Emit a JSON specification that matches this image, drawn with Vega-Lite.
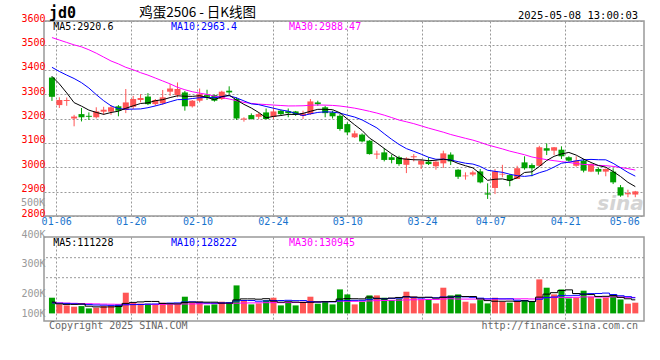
{
"$schema":"https://vega.github.io/schema/vega-lite/v6.json",
"padding":{"left":20,"top":5,"right":4,"bottom":4},
"background":"#ffffff",
"spacing":21,
"bounds":"flush",
"config":{
 "view":{"stroke":"#999999","strokeWidth":1.5},
 "axis":{"labelFont":"DejaVu Sans Mono","labelFontSize":10,"domain":false,"ticks":false,"tickSize":0,"gridColor":"#999999","gridDash":[2,2],"gridWidth":1,"labelOverlap":false,"tickCount":40},
 "text":{"font":"DejaVu Sans Mono","fontSize":10}
},
"datasets":{"k":[
{"i":0,"d":"01-03","o":3368,"h":3372,"l":3272,"c":3289,"v":128700,"m5":3373,"m10":3410,"m30":3532,"v5":92660,"v10":86100,"v30":87740},
{"i":1,"d":"01-06","o":3255,"h":3287,"l":3243,"c":3276,"v":73800,"m5":3342,"m10":3393,"m30":3522,"v5":77900,"v10":83640,"v30":86100},
{"i":2,"d":"01-07","o":3272,"h":3286,"l":3252,"c":3276,"v":65600,"m5":3305,"m10":3378,"m30":3512,"v5":73800,"v10":82000,"v30":84460},
{"i":3,"d":"01-08","o":3200,"h":3215,"l":3168,"c":3208,"v":54900,"m5":3265,"m10":3364,"m30":3502,"v5":73800,"v10":78720,"v30":82820},
{"i":4,"d":"01-09","o":3218,"h":3243,"l":3188,"c":3205,"v":59900,"m5":3250.8,"m10":3347,"m30":3494,"v5":76590,"v10":75440,"v30":81180},
{"i":5,"d":"01-10","o":3211,"h":3225,"l":3194,"c":3207,"v":41000,"m5":3234.4,"m10":3325,"m30":3482,"v5":59040,"v10":72160,"v30":79540},
{"i":6,"d":"01-13","o":3205,"h":3246,"l":3200,"c":3229,"v":46700,"m5":3225,"m10":3298,"m30":3468,"v5":53630,"v10":68880,"v30":77900},
{"i":7,"d":"01-14","o":3228,"h":3248,"l":3215,"c":3236,"v":59900,"m5":3217,"m10":3273,"m30":3452,"v5":52480,"v10":67240,"v30":76260},
{"i":8,"d":"01-15","o":3228,"h":3255,"l":3215,"c":3246,"v":59900,"m5":3224.6,"m10":3252,"m30":3436,"v5":53460,"v10":65600,"v30":75440},
{"i":9,"d":"01-16","o":3250,"h":3255,"l":3209,"c":3232,"v":73800,"m5":3230,"m10":3240.4,"m30":3424,"v5":56250,"v10":66420,"v30":74620},
{"i":10,"d":"01-17","o":3235,"h":3321,"l":3222,"c":3266,"v":169700,"m5":3241.8,"m10":3238.1,"m30":3410,"v5":82000,"v10":70520,"v30":74620},
{"i":11,"d":"01-20","o":3248,"h":3293,"l":3239,"c":3280,"v":87700,"m5":3252,"m10":3238.5,"m30":3400,"v5":90200,"v10":71910,"v30":74620},
{"i":12,"d":"01-21","o":3276,"h":3300,"l":3266,"c":3284,"v":79500,"m5":3261.6,"m10":3239.3,"m30":3388,"v5":94140,"v10":73310,"v30":73800},
{"i":13,"d":"01-22","o":3290,"h":3304,"l":3255,"c":3259,"v":79500,"m5":3264.2,"m10":3244.4,"m30":3378,"v5":98070,"v10":75770,"v30":73800},
{"i":14,"d":"01-23","o":3259,"h":3280,"l":3252,"c":3276,"v":73800,"m5":3273,"m10":3251.5,"m30":3366,"v5":98070,"v10":77160,"v30":73800},
{"i":15,"d":"01-24","o":3262,"h":3317,"l":3256,"c":3287,"v":87700,"m5":3277.2,"m10":3259.5,"m30":3354,"v5":81670,"v10":81840,"v30":74620},
{"i":16,"d":"01-27","o":3310,"h":3341,"l":3293,"c":3323,"v":73800,"m5":3285.8,"m10":3268.9,"m30":3342,"v5":78880,"v10":84540,"v30":75440},
{"i":17,"d":"02-05","o":3296,"h":3348,"l":3287,"c":3321,"v":73800,"m5":3293.2,"m10":3277.4,"m30":3328,"v5":77740,"v10":85940,"v30":76260},
{"i":18,"d":"02-06","o":3307,"h":3313,"l":3232,"c":3250,"v":136900,"m5":3291.4,"m10":3277.8,"m30":3318,"v5":89220,"v10":93640,"v30":77080},
{"i":19,"d":"02-07","o":3250,"h":3276,"l":3245,"c":3273,"v":87700,"m5":3290.8,"m10":3281.9,"m30":3310,"v5":92000,"v10":95040,"v30":77900},
{"i":20,"d":"02-10","o":3273,"h":3323,"l":3266,"c":3300,"v":95900,"m5":3293.4,"m10":3285.3,"m30":3304,"v5":93640,"v10":87660,"v30":78720},
{"i":21,"d":"02-11","o":3296,"h":3318,"l":3276,"c":3289,"v":65600,"m5":3286.6,"m10":3286.2,"m30":3299,"v5":92000,"v10":85440,"v30":79540},
{"i":22,"d":"02-12","o":3296,"h":3298,"l":3269,"c":3273,"v":73800,"m5":3277,"m10":3285.1,"m30":3292,"v5":92000,"v10":84870,"v30":80360},
{"i":23,"d":"02-13","o":3280,"h":3314,"l":3276,"c":3310,"v":95900,"m5":3289,"m10":3290.2,"m30":3286,"v5":83800,"v10":86510,"v30":81180},
{"i":24,"d":"02-14","o":3314,"h":3332,"l":3300,"c":3307,"v":87700,"m5":3295.8,"m10":3293.3,"m30":3280,"v5":83800,"v10":87900,"v30":82000},
{"i":25,"d":"02-17","o":3280,"h":3287,"l":3194,"c":3200,"v":229600,"m5":3275.8,"m10":3284.6,"m30":3273,"v5":110540,"v10":102090,"v30":83640},
{"i":26,"d":"02-18","o":3196,"h":3205,"l":3187,"c":3200,"v":109100,"m5":3258,"m10":3272.3,"m30":3266,"v5":119230,"v10":105620,"v30":85280},
{"i":27,"d":"02-19","o":3214,"h":3221,"l":3196,"c":3198,"v":73800,"m5":3243,"m10":3260,"m30":3262,"v5":119230,"v10":105620,"v30":86100},
{"i":28,"d":"02-20","o":3207,"h":3225,"l":3198,"c":3218,"v":82000,"m5":3224.6,"m10":3256.8,"m30":3259,"v5":116440,"v10":100120,"v30":86920},
{"i":29,"d":"02-21","o":3225,"h":3241,"l":3196,"c":3198,"v":109100,"m5":3202.8,"m10":3249.3,"m30":3257.2,"v5":120700,"v10":102250,"v30":87900},
{"i":30,"d":"02-24","o":3207,"h":3246,"l":3198,"c":3229,"v":128700,"m5":3208.6,"m10":3242.2,"m30":3255.2,"v5":100530,"v10":105530,"v30":87900},
{"i":31,"d":"02-25","o":3232,"h":3236,"l":3214,"c":3218,"v":65600,"m5":3212.2,"m10":3235.1,"m30":3253.3,"v5":91840,"v10":105530,"v30":87660},
{"i":32,"d":"02-26","o":3230,"h":3241,"l":3205,"c":3222,"v":92700,"m5":3217,"m10":3230,"m30":3251.5,"v5":95610,"v10":107420,"v30":88560},
{"i":33,"d":"02-27","o":3229,"h":3231,"l":3211,"c":3216,"v":65600,"m5":3216.6,"m10":3220.6,"m30":3251.7,"v5":92330,"v10":104390,"v30":88890},
{"i":34,"d":"02-28","o":3211,"h":3232,"l":3198,"c":3221,"v":95900,"m5":3221.2,"m10":3212,"m30":3252.3,"v5":89710,"v10":105210,"v30":90120},
{"i":35,"d":"03-03","o":3218,"h":3280,"l":3215,"c":3270,"v":136900,"m5":3229.4,"m10":3219,"m30":3254.4,"v5":91350,"v10":95940,"v30":93320},
{"i":36,"d":"03-04","o":3266,"h":3273,"l":3252,"c":3259,"v":79500,"m5":3237.6,"m10":3224.9,"m30":3255.4,"v5":94140,"v10":92990,"v30":94380},
{"i":37,"d":"03-05","o":3246,"h":3252,"l":3205,"c":3222,"v":100900,"m5":3237.6,"m10":3227.3,"m30":3254.9,"v5":95780,"v10":95690,"v30":95780},
{"i":38,"d":"03-06","o":3225,"h":3232,"l":3200,"c":3209,"v":73800,"m5":3236.2,"m10":3226.4,"m30":3253.7,"v5":97420,"v10":94870,"v30":96190},
{"i":39,"d":"03-07","o":3211,"h":3218,"l":3150,"c":3157,"v":196800,"m5":3223.4,"m10":3222.3,"m30":3251.2,"v5":117590,"v10":103650,"v30":100290},
{"i":40,"d":"03-10","o":3177,"h":3184,"l":3132,"c":3143,"v":155800,"m5":3198,"m10":3213.7,"m30":3247.1,"v5":121360,"v10":106350,"v30":99880},
{"i":41,"d":"03-11","o":3123,"h":3150,"l":3120,"c":3139,"v":73800,"m5":3174,"m10":3205.8,"m30":3242.4,"v5":120210,"v10":107170,"v30":99380},
{"i":42,"d":"03-12","o":3134,"h":3139,"l":3102,"c":3106,"v":95900,"m5":3150.8,"m10":3194.2,"m30":3236.4,"v5":119230,"v10":107500,"v30":99960},
{"i":43,"d":"03-13","o":3109,"h":3111,"l":3052,"c":3054,"v":147600,"m5":3119.8,"m10":3178,"m30":3229.6,"v5":133990,"v10":115700,"v30":102170},
{"i":44,"d":"03-14","o":3052,"h":3068,"l":3034,"c":3056,"v":147600,"m5":3099.6,"m10":3161.5,"m30":3222.3,"v5":124150,"v10":120870,"v30":104630},
{"i":45,"d":"03-17","o":3061,"h":3079,"l":3024,"c":3030,"v":128700,"m5":3077,"m10":3137.5,"m30":3213.7,"v5":118740,"v10":120050,"v30":106030},
{"i":46,"d":"03-18","o":3041,"h":3052,"l":3016,"c":3030,"v":109100,"m5":3055.2,"m10":3114.6,"m30":3203.9,"v5":125790,"v10":123000,"v30":107170},
{"i":47,"d":"03-19","o":3041,"h":3047,"l":3006,"c":3013,"v":120500,"m5":3036.6,"m10":3093.7,"m30":3193.7,"v5":130710,"v10":124970,"v30":108730},
{"i":48,"d":"03-20","o":3010,"h":3041,"l":2976,"c":3036,"v":177900,"m5":3033,"m10":3076.4,"m30":3186.5,"v5":136780,"v10":135380,"v30":110130},
{"i":49,"d":"03-21","o":3041,"h":3054,"l":3024,"c":3045,"v":136900,"m5":3030.8,"m10":3065.2,"m30":3178.9,"v5":134640,"v10":129400,"v30":111770},
{"i":50,"d":"03-24","o":3011,"h":3032,"l":2993,"c":3027,"v":114800,"m5":3030.2,"m10":3053.6,"m30":3169.8,"v5":131860,"v10":125300,"v30":112420},
{"i":51,"d":"03-25","o":3023,"h":3041,"l":3009,"c":3013,"v":114800,"m5":3026.8,"m10":3041,"m30":3160.6,"v5":133000,"v10":129400,"v30":114060},
{"i":52,"d":"03-26","o":3004,"h":3025,"l":2990,"c":3023,"v":82000,"m5":3028.8,"m10":3032.7,"m30":3152.3,"v5":125300,"v10":128000,"v30":114310},
{"i":53,"d":"03-27","o":3016,"h":3068,"l":2997,"c":3057,"v":210700,"m5":3033,"m10":3033,"m30":3143.9,"v5":131860,"v10":134320,"v30":118160},
{"i":54,"d":"03-28","o":3052,"h":3061,"l":3009,"c":3024,"v":147600,"m5":3028.8,"m10":3029.8,"m30":3134.4,"v5":133990,"v10":134320,"v30":120130},
{"i":55,"d":"03-31","o":2990,"h":2992,"l":2952,"c":2961,"v":155800,"m5":3015.6,"m10":3022.9,"m30":3126.5,"v5":142190,"v10":137020,"v30":117670},
{"i":56,"d":"04-01","o":2963,"h":2979,"l":2949,"c":2966,"v":95900,"m5":3006.2,"m10":3016.5,"m30":3118.7,"v5":138420,"v10":135710,"v30":117260},
{"i":57,"d":"04-02","o":2970,"h":2986,"l":2963,"c":2979,"v":82000,"m5":2997.4,"m10":3013.1,"m30":3111.4,"v5":138420,"v10":131860,"v30":117510},
{"i":58,"d":"04-03","o":2983,"h":2993,"l":2934,"c":2938,"v":109100,"m5":2973.6,"m10":3003.3,"m30":3102,"v5":118080,"v10":124970,"v30":118410},
{"i":59,"d":"04-07","o":2893,"h":2934,"l":2870,"c":2888,"v":82000,"m5":2946.4,"m10":2987.6,"m30":3091.7,"v5":104960,"v10":119470,"v30":117510},
{"i":60,"d":"04-08","o":2915,"h":2993,"l":2890,"c":2983,"v":128700,"m5":2950.8,"m10":2983.2,"m30":3083.5,"v5":99550,"v10":120870,"v30":117510},
{"i":61,"d":"04-09","o":2970,"h":3010,"l":2959,"c":2973,"v":95900,"m5":2952.2,"m10":2979.2,"m30":3075.3,"v5":99550,"v10":118980,"v30":118490},
{"i":62,"d":"04-10","o":2968,"h":2972,"l":2922,"c":2945,"v":87700,"m5":2945.4,"m10":2971.4,"m30":3066.1,"v5":100700,"v10":119560,"v30":118330},
{"i":63,"d":"04-11","o":2952,"h":3006,"l":2952,"c":2996,"v":95900,"m5":2957,"m10":2965.3,"m30":3058.8,"v5":98070,"v10":108080,"v30":119390},
{"i":64,"d":"04-14","o":3020,"h":3045,"l":2990,"c":2996,"v":109100,"m5":2978.6,"m10":2962.5,"m30":3051.3,"v5":103480,"v10":104220,"v30":119800},
{"i":65,"d":"04-15","o":3009,"h":3016,"l":2963,"c":2996,"v":95900,"m5":2981.2,"m10":2966,"m30":3042.1,"v5":96920,"v10":98240,"v30":118410},
{"i":66,"d":"04-16","o":3006,"h":3088,"l":3004,"c":3082,"v":278800,"m5":3003,"m10":2977.6,"m30":3036.2,"v5":133500,"v10":116520,"v30":125050},
{"i":67,"d":"04-17","o":3078,"h":3098,"l":3050,"c":3068,"v":210700,"m5":3027.6,"m10":2986.5,"m30":3031.1,"v5":158100,"v10":129400,"v30":128740},
{"i":68,"d":"04-18","o":3068,"h":3083,"l":3050,"c":3082,"v":155800,"m5":3044.8,"m10":3000.9,"m30":3026.9,"v5":170070,"v10":134070,"v30":131450},
{"i":69,"d":"04-21","o":3072,"h":3086,"l":3034,"c":3045,"v":196800,"m5":3054.6,"m10":3016.6,"m30":3023.1,"v5":187620,"v10":145550,"v30":131450},
{"i":70,"d":"04-22","o":3041,"h":3045,"l":3023,"c":3027,"v":123000,"m5":3060.8,"m10":3021,"m30":3019.3,"v5":193030,"v10":144980,"v30":130380},
{"i":71,"d":"04-23","o":3006,"h":3045,"l":3002,"c":3027,"v":128700,"m5":3049.8,"m10":3026.4,"m30":3015.5,"v5":163020,"v10":148260,"v30":132180},
{"i":72,"d":"04-24","o":3027,"h":3034,"l":2979,"c":2986,"v":186100,"m5":3033.4,"m10":3030.5,"m30":3011.5,"v5":158100,"v10":158100,"v30":135220},
{"i":73,"d":"04-25","o":2982,"h":3016,"l":2980,"c":3013,"v":136900,"m5":3019.6,"m10":3032.2,"m30":3010.2,"v5":154320,"v10":162200,"v30":134890},
{"i":74,"d":"04-28","o":2993,"h":2999,"l":2970,"c":2982,"v":120500,"m5":3007,"m10":3030.8,"m30":3007.7,"v5":139070,"v10":163340,"v30":133990},
{"i":75,"d":"04-29","o":2982,"h":2995,"l":2963,"c":2993,"v":128700,"m5":3000.2,"m10":3030.5,"m30":3006.5,"v5":140220,"v10":166620,"v30":133990},
{"i":76,"d":"04-30","o":2982,"h":2996,"l":2931,"c":2938,"v":155800,"m5":2982.4,"m10":3016.1,"m30":3003.4,"v5":145630,"v10":154320,"v30":135550},
{"i":77,"d":"05-06","o":2918,"h":2927,"l":2879,"c":2884,"v":114800,"m5":2962,"m10":2997.7,"m30":2999.1,"v5":131360,"v10":144730,"v30":135300},
{"i":78,"d":"05-07","o":2889,"h":2908,"l":2877,"c":2894,"v":79500,"m5":2938.2,"m10":2978.9,"m30":2994.4,"v5":119880,"v10":137100,"v30":132020},
{"i":79,"d":"05-08","o":2888,"h":2903,"l":2877,"c":2901,"v":87700,"m5":2920.6,"m10":2963.4,"m30":2988.47,"v5":111228,"v10":128222,"v30":130945}
]},
"vconcat":[
{
 "width":600,"height":195,
 "data":{"name":"k"},
 "layer":[
  {"data":{"values":[{}]},"mark":{"type":"text","text":"sina","font":"DejaVu Sans","fontSize":20,"fontWeight":"bold","fontStyle":"italic","color":"#d4d4d4","align":"center","baseline":"middle"},
   "encoding":{"x":{"datum":77.0},"y":{"datum":2850}}},
  {"mark":{"type":"rule","strokeWidth":1},
   "encoding":{
    "x":{"field":"i","type":"quantitative","scale":{"domain":[-0.4,79.5],"nice":false,"zero":false},
     "axis":{"title":null,"values":[0.57,10.69,19.71,29.92,39.99,50.11,59.35,69.51,77.5],"tickCount":40,"grid":true,
      "labelExpr":"datum.value < 5 ? '01-06' : datum.value < 15 ? '01-20' : datum.value < 25 ? '02-10' : datum.value < 35 ? '02-24' : datum.value < 45 ? '03-10' : datum.value < 55 ? '03-24' : datum.value < 65 ? '04-07' : datum.value < 73 ? '04-21' : '05-06'",
      "labelColor":"#1874CD","labelOverlap":false,"labelFlush":false,"labelBaseline":"top","labelPadding":0,
      "gridOpacity":{"condition":{"test":"datum.value > 75","value":0},"value":1}}},
    "y":{"field":"l","type":"quantitative","scale":{"domain":[2800,3600],"nice":false,"zero":false},
     "axis":{"title":null,"values":[2800,2900,3000,3100,3200,3300,3400,3500,3600],"tickCount":40,"grid":true,"format":"d","labelOverlap":false,"labelColor":"#ff0000","labelBaseline":"alphabetic","labelPadding":-1}},
    "y2":{"field":"h"},
    "color":{"condition":{"test":"datum.c >= datum.o","value":"#ff5555"},"value":"#00a000"}
   }},
  {"mark":{"type":"bar","size":6},
   "encoding":{
    "x":{"field":"i","type":"quantitative"},
    "y":{"field":"o","type":"quantitative"},
    "y2":{"field":"c"},
    "color":{"condition":{"test":"datum.c >= datum.o","value":"#ff5555"},"value":"#00a000"}
   }},
  {"mark":{"type":"line","color":"#ff00ff","strokeWidth":1},"encoding":{"x":{"field":"i","type":"quantitative"},"y":{"field":"m30","type":"quantitative"}}},
  {"mark":{"type":"line","color":"#0000ff","strokeWidth":1},"encoding":{"x":{"field":"i","type":"quantitative"},"y":{"field":"m10","type":"quantitative"}}},
  {"mark":{"type":"line","color":"#000000","strokeWidth":1},"encoding":{"x":{"field":"i","type":"quantitative"},"y":{"field":"m5","type":"quantitative"}}},
  {"data":{"values":[{}]},"mark":{"type":"text","text":"jd0","fontSize":15,"fontWeight":"bold","align":"left","baseline":"alphabetic","dy":-3,"color":"#000000"},
   "encoding":{"x":{"datum":-0.4},"y":{"datum":3600}}},
  {"data":{"values":[{}]},"mark":{"type":"text","text":"鸡蛋2506 - 日K线图","font":"Noto Sans CJK SC","fontSize":13.5,"align":"left","baseline":"alphabetic","dy":-4,"color":"#000000"},
   "encoding":{"x":{"datum":11.81},"y":{"datum":3600}}},
  {"data":{"values":[{}]},"mark":{"type":"text","text":"2025-05-08 13:00:03","fontSize":10.5,"align":"right","baseline":"alphabetic","dy":-2,"color":"#000000"},
   "encoding":{"x":{"datum":79.37},"y":{"datum":3600}}},
  {"data":{"values":[{}]},"mark":{"type":"text","text":"MA5:2920.6","align":"left","baseline":"top","dy":1,"color":"#000000"},
   "encoding":{"x":{"datum":0.17},"y":{"datum":3600}}},
  {"data":{"values":[{}]},"mark":{"type":"text","text":"MA10:2963.4","align":"left","baseline":"top","dy":1,"color":"#0000ff"},
   "encoding":{"x":{"datum":16.11},"y":{"datum":3600}}},
  {"data":{"values":[{}]},"mark":{"type":"text","text":"MA30:2988.47","align":"left","baseline":"top","dy":1,"color":"#ff00ff"},
   "encoding":{"x":{"datum":32.09},"y":{"datum":3600}}},
  {"data":{"values":[{}]},"mark":{"type":"text","text":"500K","align":"right","baseline":"alphabetic","color":"#999999"},
   "encoding":{"x":{"datum":-0.93},"y":{"datum":2840}}}
 ]
},
{
 "width":600,"height":84,
 "data":{"name":"k"},
 "layer":[
  {"data":{"values":[{}]},"mark":{"type":"rule","color":"#999999","strokeDash":[2,2],"strokeWidth":1},"encoding":{"y":{"datum":456740}}},
  {"data":{"values":[{}]},"mark":{"type":"rule","color":"#999999","strokeDash":[2,2],"strokeWidth":1},"encoding":{"y":{"datum":292740}}},
  {"mark":{"type":"bar","size":6},
   "encoding":{
    "x":{"field":"i","type":"quantitative","scale":{"domain":[-0.4,79.5],"nice":false,"zero":false},
     "axis":{"title":null,"values":[0.57,10.69,19.71,29.92,39.99,50.11,59.35,69.51],"tickCount":40,"labels":false,"grid":true}},
    "y":{"field":"v","type":"quantitative","scale":{"domain":[-62320,626480],"nice":false,"zero":false},
     "axis":{"title":null,"values":[-21320,136940,382940,626480],"tickCount":40,"grid":false,"labelOverlap":false,"labelColor":"#999999","labelBaseline":"alphabetic","labelPadding":-1,
      "labelExpr":"datum.value > 500000 ? '400K' : datum.value > 300000 ? '300K' : datum.value > 100000 ? '200K' : '100K'"}},
    "y2":{"datum":0},
    "color":{"condition":{"test":"datum.c >= datum.o","value":"#ff5555"},"value":"#00a000"}
   }},
  {"mark":{"type":"line","color":"#ff00ff","strokeWidth":1,"interpolate":"step"},"encoding":{"x":{"field":"i","type":"quantitative"},"y":{"field":"v30","type":"quantitative"}}},
  {"mark":{"type":"line","color":"#0000ff","strokeWidth":1,"interpolate":"step"},"encoding":{"x":{"field":"i","type":"quantitative"},"y":{"field":"v10","type":"quantitative"}}},
  {"mark":{"type":"line","color":"#000000","strokeWidth":1,"interpolate":"step"},"encoding":{"x":{"field":"i","type":"quantitative"},"y":{"field":"v5","type":"quantitative"}}},
  {"data":{"values":[{}]},"mark":{"type":"text","text":"MA5:111228","align":"left","baseline":"top","dy":1,"color":"#000000"},
   "encoding":{"x":{"datum":0.17},"y":{"datum":626480}}},
  {"data":{"values":[{}]},"mark":{"type":"text","text":"MA10:128222","align":"left","baseline":"top","dy":1,"color":"#0000ff"},
   "encoding":{"x":{"datum":16.11},"y":{"datum":626480}}},
  {"data":{"values":[{}]},"mark":{"type":"text","text":"MA30:130945","align":"left","baseline":"top","dy":1,"color":"#ff00ff"},
   "encoding":{"x":{"datum":32.09},"y":{"datum":626480}}},
  {"data":{"values":[{}]},"mark":{"type":"text","text":"Copyright 2025 SINA.COM","align":"left","baseline":"top","dy":0,"color":"#666666"},
   "encoding":{"x":{"datum":-0.4},"y":{"datum":-62320}}},
  {"data":{"values":[{}]},"mark":{"type":"text","text":"http://finance.sina.com.cn","align":"right","baseline":"top","dy":0,"color":"#666666"},
   "encoding":{"x":{"datum":79.37},"y":{"datum":-62320}}}
 ]
}
]
}
